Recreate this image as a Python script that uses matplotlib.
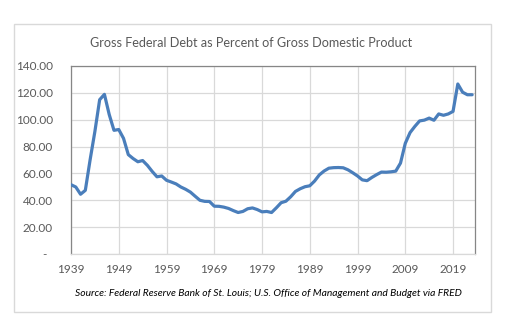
import matplotlib
matplotlib.use("Agg")
import matplotlib.pyplot as plt
from matplotlib.patches import Rectangle

years = list(range(1939, 2024))
debt_pct = [51.6, 49.9, 44.5, 47.4, 70.1, 91.2, 114.9, 118.9, 103.9, 92.1,
            92.7, 86.1, 74.0, 71.1, 68.7, 69.6, 66.0, 61.5, 57.5, 58.1,
            54.9, 53.6, 52.2, 49.9, 48.2, 46.1, 43.0, 40.0, 39.2, 39.1,
            35.6, 35.5, 34.9, 33.9, 32.3, 30.9, 31.7, 33.7, 34.3, 33.1,
            31.4, 31.7, 30.9, 34.4, 38.2, 39.3, 42.6, 46.6, 48.6, 50.1,
            50.8, 54.3, 58.9, 61.8, 63.9, 64.3, 64.4, 64.2, 62.7, 60.5,
            58.1, 55.2, 54.6, 57.0, 59.1, 61.0, 60.9, 61.2, 61.7, 67.7,
            82.4, 90.4, 95.0, 99.1, 99.7, 101.2, 99.6, 104.3, 103.3, 104.3,
            106.2, 126.6, 120.5, 118.6, 118.6]
x_ticks = list(range(1939, 2020, 10))
y_ticks = [0, 20, 40, 60, 80, 100, 120, 140]
y_labels = ["-  ", "20.00", "40.00", "60.00", "80.00", "100.00", "120.00", "140.00"]

title = "Gross Federal Debt as Percent of Gross Domestic Product"
source = "Source: Federal Reserve Bank of St. Louis; U.S. Office of Management and Budget via FRED"

plt.rcParams['font.family'] = ['Lato', 'DejaVu Sans']
txt = "#595959"

fig = plt.figure(figsize=(5.26, 3.36), dpi=100)
fig.patch.set_facecolor("white")
fig.patches.append(Rectangle((14/526, 24/336), 477/526, 288/336, transform=fig.transFigure,
                             fill=False, edgecolor="#d9d9d9", linewidth=1.0))

ax = fig.add_axes([71/526, 82/336, 404/526, 188/336])
ax.plot(years, debt_pct, color="#4a7ebb", linewidth=2.3, solid_capstyle="round",
        solid_joinstyle="round", zorder=3)
ax.set_xlim(1939, 2023.6)
ax.set_ylim(0, 140)
ax.set_xticks(x_ticks)
ax.set_xticklabels([str(v) for v in x_ticks])
ax.set_yticks(y_ticks)
ax.set_yticklabels(y_labels)
ax.grid(True, color="#d9d9d9", linewidth=0.9, zorder=0)
for s in ax.spines.values():
    s.set_color("#868686")
    s.set_linewidth(0.9)
ax.spines["bottom"].set_color("#d9d9d9")
ax.tick_params(axis="x", length=0, colors=txt, labelsize=8.5, pad=7)
ax.tick_params(axis="y", length=0, colors=txt, labelsize=8.5, pad=13)
for lab in ax.get_xticklabels() + ax.get_yticklabels():
    lab.set_color(txt)

fig.text(251/526, 1 - 43/336, title, ha="center", va="center", fontsize=9.1, color=txt)
fig.text(268/526, 1 - 293/336, source, ha="center", va="center", fontsize=7.4,
         style="italic", color="black")

fig.savefig("out.png", dpi=100, facecolor="white")
